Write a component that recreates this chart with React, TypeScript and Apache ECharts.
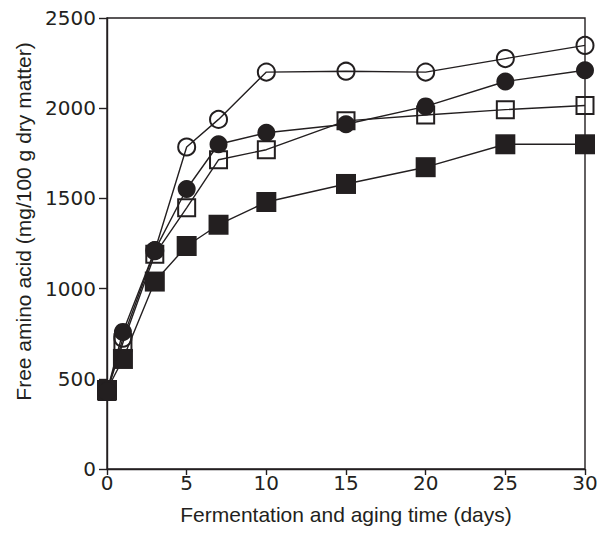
import React, { useEffect, useRef } from "react";
import * as echarts from "echarts";

const days = [0, 1, 3, 5, 7, 10, 15, 20, 25, 30];
const openCircle = [430, 725, 1210, 1785, 1938, 2200, 2205, 2200, 2275, 2348];
const filledCircle = [430, 760, 1212, 1552, 1800, 1864, 1911, 2010, 2148, 2210];
const openSquare = [430, 700, 1190, 1448, 1714, 1770, 1930, 1962, 1992, 2015];
const filledSquare = [438, 610, 1039, 1236, 1354, 1480, 1580, 1673, 1800, 1800];

const xTitle = "Fermentation and aging time (days)";
const yTitle = "Free amino acid (mg/100 g dry matter)";

const INK = "#231f20";
const TICK_FONT = "DejaVu Sans";
const TITLE_FONT = "Liberation Sans";

function pairs(vals: number[]) {
  return days.map((d, i) => [d, vals[i]]);
}

export default function App() {
  const ref = useRef<HTMLDivElement>(null);
  useEffect(() => {
    if (!ref.current) return;
    const chart = echarts.init(ref.current, null, { renderer: "svg" });
    const line = { color: INK, width: 1.4 };
    const openStyle = { color: "rgba(255,255,255,0)", borderColor: INK, borderWidth: 2 };
    const fillStyle = { color: INK, borderColor: INK, borderWidth: 0 };
    chart.setOption({
      animation: false,
      grid: {
        left: 107,
        right: 20,
        top: 18,
        bottom: 67,
        show: true,
        borderColor: INK,
        borderWidth: 1.4,
        backgroundColor: "transparent",
      },
      xAxis: {
        type: "value",
        min: 0,
        max: 30,
        interval: 5,
        name: xTitle,
        nameLocation: "middle",
        nameGap: 35,
        nameTextStyle: { fontFamily: TITLE_FONT, fontSize: 21, color: INK },
        axisLine: { show: true, lineStyle: { color: INK, width: 1.4 } },
        axisTick: { show: true, length: 6, lineStyle: { color: INK, width: 1.4 } },
        axisLabel: {
          margin: 4,
          fontFamily: TICK_FONT,
          fontSize: 20,
          color: INK,
          formatter: (v: number) => String(v),
        },
        splitLine: { show: false },
      },
      yAxis: {
        type: "value",
        min: 0,
        max: 2500,
        interval: 500,
        name: yTitle,
        nameLocation: "middle",
        nameGap: 62,
        nameTextStyle: {
          fontFamily: TITLE_FONT,
          fontSize: 21,
          color: INK,
          padding: [0, 0, 0, 44],
        },
        axisLine: { show: true, lineStyle: { color: INK, width: 1.4 } },
        axisTick: { show: true, length: 8, lineStyle: { color: INK, width: 1.4 } },
        axisLabel: {
          margin: 11,
          fontFamily: TICK_FONT,
          fontSize: 20,
          color: INK,
          formatter: (v: number) => String(v),
        },
        splitLine: { show: false },
      },
      series: [
        {
          type: "line",
          data: pairs(openSquare),
          symbol: "rect",
          symbolSize: 17,
          lineStyle: line,
          itemStyle: openStyle,
          clip: false,
          z: 2,
        },
        {
          type: "line",
          data: pairs(filledSquare),
          symbol: "rect",
          symbolSize: 20,
          lineStyle: line,
          itemStyle: fillStyle,
          clip: false,
          z: 3,
        },
        {
          type: "line",
          data: pairs(openCircle),
          symbol: "circle",
          symbolSize: 17,
          lineStyle: line,
          itemStyle: openStyle,
          clip: false,
          z: 4,
        },
        {
          type: "line",
          data: pairs(filledCircle),
          symbol: "circle",
          symbolSize: 18,
          lineStyle: line,
          itemStyle: fillStyle,
          clip: false,
          z: 5,
        },
      ],
    });
    return () => chart.dispose();
  }, []);
  return <div ref={ref} style={{ width: 605, height: 536, margin: -8 }} />;
}
